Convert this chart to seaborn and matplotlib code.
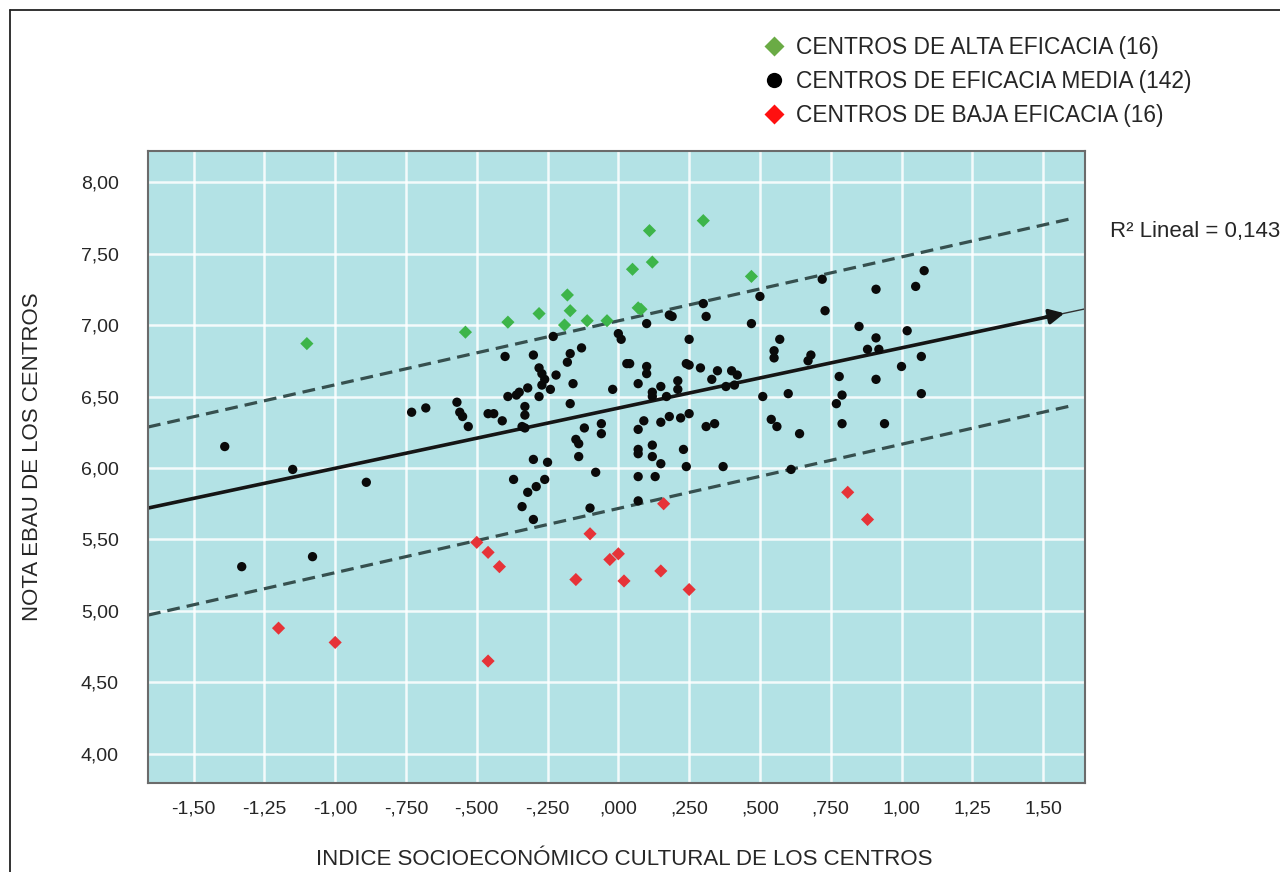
import matplotlib
matplotlib.use('Agg')
import numpy as np
import pandas as pd
import matplotlib.pyplot as plt
import seaborn as sns
from matplotlib.lines import Line2D

# data (ISEC index vs mean EBAU mark per centre)
alta_x = [-1.10, -0.54, -0.39, -0.28, -0.18, -0.17, -0.19, -0.11, -0.04, 0.05,
          0.11, 0.12, 0.07, 0.30, 0.47, 0.08]
alta_y = [6.87, 6.95, 7.02, 7.08, 7.21, 7.10, 7.00, 7.03, 7.03, 7.39,
          7.66, 7.44, 7.12, 7.73, 7.34, 7.11]

baja_x = [-1.20, -1.00, -0.50, -0.46, -0.42, -0.46, -0.15, -0.10, -0.03, 0.00,
          0.02, 0.16, 0.15, 0.25, 0.81, 0.88]
baja_y = [4.88, 4.78, 5.48, 5.41, 5.31, 4.65, 5.22, 5.54, 5.36, 5.40,
          5.21, 5.75, 5.28, 5.15, 5.83, 5.64]

media_x = [-1.39, -1.15, -0.89, -1.33, -1.08, -0.73, -0.68, -0.57, -0.56, -0.55,
           -0.53, -0.46, -0.44, -0.41, -0.40, -0.30, -0.23, -0.17, -0.13, -0.18,
           -0.28, -0.27, -0.22, -0.26, -0.27, -0.24, -0.28, -0.16, -0.32, -0.35,
           -0.36, -0.39, -0.33, -0.33, -0.17, -0.34, -0.33, -0.12, -0.06, -0.06,
           -0.15, -0.14, -0.14, -0.30, -0.25, -0.08, -0.37, -0.26, -0.29, -0.32,
           -0.34, -0.10, -0.30, 0.00, 0.01, 0.03, 0.04, -0.02, 0.07, 0.07,
           0.09, 0.07, 0.07, 0.07, 0.07, 0.10, 0.18, 0.19, 0.30, 0.31,
           0.50, 0.72, 0.73, 0.47, 0.25, 0.57, 0.55, 0.55, 0.68, 0.67,
           0.10, 0.10, 0.24, 0.25, 0.29, 0.35, 0.40, 0.42, 0.33, 0.21,
           0.15, 0.12, 0.12, 0.17, 0.21, 0.38, 0.41, 0.51, 0.60, 0.77,
           0.15, 0.18, 0.22, 0.25, 0.31, 0.34, 0.54, 0.56, 0.64, 0.12,
           0.12, 0.23, 0.15, 0.24, 0.37, 0.13, 0.61, 1.08, 1.05, 0.91,
           0.85, 1.02, 0.91, 0.88, 0.92, 1.07, 1.00, 0.78, 0.91, 0.79,
           1.07, 0.79, 0.94]
media_y = [6.15, 5.99, 5.90, 5.31, 5.38, 6.39, 6.42, 6.46, 6.39, 6.36,
           6.29, 6.38, 6.38, 6.33, 6.78, 6.79, 6.92, 6.80, 6.84, 6.74,
           6.70, 6.66, 6.65, 6.62, 6.58, 6.55, 6.50, 6.59, 6.56, 6.53,
           6.51, 6.50, 6.43, 6.37, 6.45, 6.29, 6.28, 6.28, 6.31, 6.24,
           6.20, 6.17, 6.08, 6.06, 6.04, 5.97, 5.92, 5.92, 5.87, 5.83,
           5.73, 5.72, 5.64, 6.94, 6.90, 6.73, 6.73, 6.55, 6.59, 6.27,
           6.33, 6.13, 6.10, 5.94, 5.77, 7.01, 7.07, 7.06, 7.15, 7.06,
           7.20, 7.32, 7.10, 7.01, 6.90, 6.90, 6.82, 6.77, 6.79, 6.75,
           6.71, 6.66, 6.73, 6.72, 6.70, 6.68, 6.68, 6.65, 6.62, 6.61,
           6.57, 6.53, 6.50, 6.50, 6.55, 6.57, 6.58, 6.50, 6.52, 6.45,
           6.32, 6.36, 6.35, 6.38, 6.29, 6.31, 6.34, 6.29, 6.24, 6.16,
           6.08, 6.13, 6.03, 6.01, 6.01, 5.94, 5.99, 7.38, 7.27, 7.25,
           6.99, 6.96, 6.91, 6.83, 6.83, 6.78, 6.71, 6.64, 6.62, 6.51,
           6.52, 6.31, 6.31]

grupos = ['CENTROS DE ALTA EFICACIA (16)',
          'CENTROS DE EFICACIA MEDIA (142)',
          'CENTROS DE BAJA EFICACIA (16)']

# fitted line and the two dashed band lines (intercept, slope)
fit_a, fit_b = 6.419, 0.421
sup_a, sup_b = 7.029, 0.447
inf_a, inf_b = 5.717, 0.449
r2_text = 'R² Lineal = 0,143'

x_ticks = [-1.50, -1.25, -1.00, -0.75, -0.50, -0.25, 0.00, 0.25, 0.50, 0.75, 1.00, 1.25, 1.50]
x_labels = ['-1,50', '-1,25', '-1,00', '-,750', '-,500', '-,250', ',000',
            ',250', ',500', ',750', '1,00', '1,25', '1,50']
y_ticks = [4.0, 4.5, 5.0, 5.5, 6.0, 6.5, 7.0, 7.5, 8.0]
y_labels = ['4,00', '4,50', '5,00', '5,50', '6,00', '6,50', '7,00', '7,50', '8,00']

df = pd.DataFrame({
    'isec': alta_x + media_x + baja_x,
    'nota': alta_y + media_y + baja_y,
    'grupo': [grupos[0]] * len(alta_x) + [grupos[1]] * len(media_x) + [grupos[2]] * len(baja_x),
})

sns.set_style('white')
plt.rcParams['font.family'] = ['Liberation Sans', 'DejaVu Sans']

fig = plt.figure(figsize=(12.8, 8.72), dpi=100)
ax = fig.add_axes([148 / 1280, 89 / 872, 937 / 1280, 632 / 872])
ax.set_facecolor('#b3e2e5')

xmin, xmax = -1.661, 1.648
ymin, ymax = 3.797, 8.217

# white grid
for v in x_ticks:
    ax.axvline(v, color='white', lw=1.8, alpha=0.85, zorder=0)
for v in y_ticks:
    ax.axhline(v, color='white', lw=1.8, alpha=0.85, zorder=0)

# band lines
band_x = np.array([xmin, 1.59])
ax.plot(band_x, sup_a + sup_b * band_x, color='#36504f', lw=2.3, dashes=(4, 2.2), zorder=2)
ax.plot(band_x, inf_a + inf_b * band_x, color='#36504f', lw=2.3, dashes=(4, 2.2), zorder=2)

# regression line with arrow
lx = np.array([xmin, 1.52])
ax.plot(lx, fit_a + fit_b * lx, color='#151515', lw=2.6, zorder=2)
tx = np.array([1.56, xmax])
ax.plot(tx, fit_a + fit_b * tx, color='#333333', lw=1.0, zorder=2)
ax.annotate('', xy=(1.585, fit_a + fit_b * 1.585), xytext=(1.50, fit_a + fit_b * 1.50),
            arrowprops=dict(arrowstyle='-|>', color='#151515', lw=2.6, mutation_scale=22),
            zorder=3)

sns.scatterplot(data=df, x='isec', y='nota', hue='grupo', style='grupo',
                hue_order=grupos, style_order=grupos,
                palette={grupos[0]: '#3db54a', grupos[1]: '#0a0a0a', grupos[2]: '#e63338'},
                markers={grupos[0]: 'D', grupos[1]: 'o', grupos[2]: 'D'},
                s=45, linewidth=0, legend=False, ax=ax, zorder=4)

ax.set_xlim(xmin, xmax)
ax.set_ylim(ymin, ymax)
ax.set_xticks(x_ticks)
ax.set_xticklabels(x_labels, fontsize=14)
ax.set_yticks(y_ticks)
ax.set_yticklabels(y_labels, fontsize=14)
ax.tick_params(axis='x', direction='inout', length=9, width=1.2, color='#444444', pad=8)
ax.tick_params(axis='y', direction='out', length=5, width=1.2, color='#444444', pad=16)
for sp in ax.spines.values():
    sp.set_color('#6b6b6b')
    sp.set_linewidth(1.5)

ax.set_xlabel('INDICE SOCIOECONÓMICO CULTURAL DE LOS CENTROS', fontsize=16)
ax.set_ylabel('NOTA EBAU DE LOS CENTROS', fontsize=16)
ax.xaxis.set_label_coords(0.508, -0.104)
ax.yaxis.set_label_coords(-0.112, 0.516)

# legend on top
handles = [
    Line2D([], [], marker='D', color='none', markerfacecolor='#6aab45', markeredgecolor='none', markersize=10),
    Line2D([], [], marker='o', color='none', markerfacecolor='black', markeredgecolor='none', markersize=11),
    Line2D([], [], marker='D', color='none', markerfacecolor='#ff1010', markeredgecolor='none', markersize=10),
]
fig.legend(handles, grupos, loc='upper left', bbox_to_anchor=(753 / 1280, 1 - 27 / 872),
           frameon=False, fontsize=16.4, handlelength=1.0, handletextpad=0.5,
           labelspacing=0.47, borderaxespad=0)

fig.text(1110 / 1280, 1 - 232 / 872, r2_text, fontsize=16, va='center', ha='left')

# outer frame (left and top edges)
fig.add_artist(Line2D([10 / 1280, 10 / 1280], [0, 1 - 10 / 872], transform=fig.transFigure,
                      color='#222222', lw=1.3))
fig.add_artist(Line2D([10 / 1280, 1], [1 - 10 / 872, 1 - 10 / 872], transform=fig.transFigure,
                      color='#222222', lw=1.3))

fig.savefig('out.png', dpi=100)
